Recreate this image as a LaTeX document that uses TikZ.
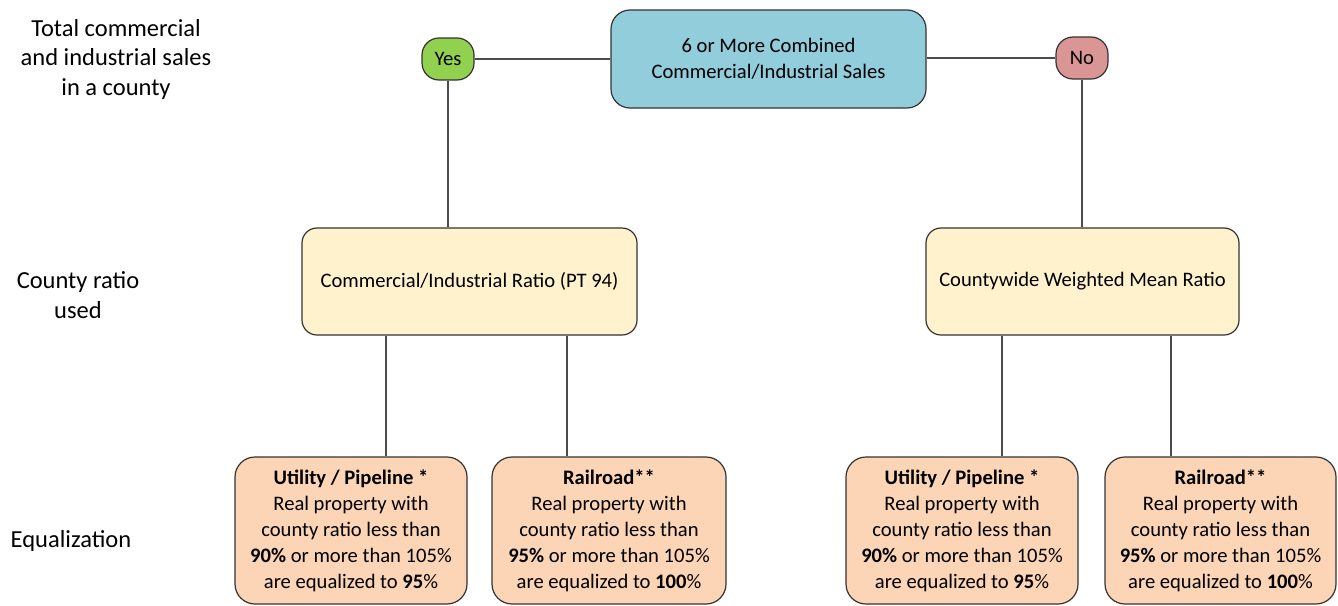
\documentclass[tikz,border=0pt]{standalone}
\usepackage{fontspec}
\setmainfont{Carlito}
\usepackage{tikz}
\usetikzlibrary{positioning, calc}

\definecolor{salesblue}{HTML}{92CDDC}
\definecolor{yesgreen}{HTML}{92D050}
\definecolor{nored}{HTML}{DA9694}
\definecolor{ratioyellow}{HTML}{FFF2CC}
\definecolor{equalpeach}{HTML}{FBD5B5}

\begin{document}
\begin{tikzpicture}[
  x=1pt, y=-1pt,
  every node/.style={font=\fontsize{20.6}{26}\selectfont},
  line/.style={draw=black!70, line width=1.2pt},
  box/.style={rectangle, draw=black!80, line width=1.2pt, rounded corners=15pt,
              align=center, inner sep=0pt},
  answer/.style={box, rounded corners=17pt, minimum width=52pt, minimum height=42pt},
  ratiobox/.style={box, fill=ratioyellow, minimum height=107pt},
  eqbox/.style={box, fill=equalpeach, rounded corners=20pt, minimum height=147pt},
  rowlabel/.style={align=center, font=\fontsize{24.5}{29.5}\selectfont}
]
\useasboundingbox (0,0) rectangle (1338,605);

% =======================================================
%                     ROW LABELS
% =======================================================
\node[rowlabel] (lbltotal) at (116,59) {Total commercial\\and industrial sales\\in a county};
\node[rowlabel] (lblratio) at (78,295) {County ratio\\used};
\node[rowlabel] (lblequal) at (71,541) {Equalization};

% =======================================================
%                     MAIN COMPONENTS
% =======================================================
\node[box, fill=salesblue, rounded corners=19pt, minimum width=315pt, minimum height=98pt]
  (sales) at (768.5,59) {6 or More Combined\\Commercial/Industrial Sales};
\node[answer, fill=yesgreen] (yes) at (448,59) {Yes};
\node[answer, fill=nored] (no) at (1082,58) {No};

\node[ratiobox, minimum width=335pt] (ciratio) at (469.5,281.5) {Commercial/Industrial Ratio (PT 94)};
\node[ratiobox, minimum width=313pt] (cwratio) at (1082.5,281.5) {Countywide Weighted Mean Ratio};

% Equalization boxes
\node[eqbox, minimum width=232pt] (ciutil) at (351,530.5)
  {\bfseries Utility / Pipeline *\\Real property with\\county ratio less than\\
   {\bfseries 90\%} or more than 105\%\\are equalized to {\bfseries 95}\%};
\node[eqbox, minimum width=234pt] (cirail) at (609,530.5)
  {\bfseries Railroad**\\Real property with\\county ratio less than\\
   {\bfseries 95\%} or more than 105\%\\are equalized to {\bfseries 100}\%};
\node[eqbox, minimum width=232pt] (cwutil) at (962,530.5)
  {\bfseries Utility / Pipeline *\\Real property with\\county ratio less than\\
   {\bfseries 90\%} or more than 105\%\\are equalized to {\bfseries 95}\%};
\node[eqbox, minimum width=231pt] (cwrail) at (1220.5,530.5)
  {\bfseries Railroad**\\Real property with\\county ratio less than\\
   {\bfseries 95\%} or more than 105\%\\are equalized to {\bfseries 100}\%};

% =======================================================
%                     CONNECTIONS
% =======================================================
\coordinate (ciutil_in) at ([xshift=-83.5pt]ciratio.south);
\coordinate (cirail_in) at ([xshift=97.5pt]ciratio.south);
\coordinate (cwutil_in) at ([xshift=-80.5pt]cwratio.south);
\coordinate (cwrail_in) at ([xshift=88.5pt]cwratio.south);

% Sales -> answers
\draw[line] (yes.east) -- (yes.east -| sales.west);
\draw[line] (sales.east |- no.west) -- (no.west);

% answers -> county ratio
\draw[line] (yes.south) -- (yes.south |- ciratio.north);
\draw[line] (no.south) -- (no.south |- cwratio.north);

% county ratio -> equalization
\draw[line] (ciutil_in) -- (ciutil_in |- ciutil.north);
\draw[line] (cirail_in) -- (cirail_in |- cirail.north);
\draw[line] (cwutil_in) -- (cwutil_in |- cwutil.north);
\draw[line] (cwrail_in) -- (cwrail_in |- cwrail.north);

\end{tikzpicture}
\end{document}
